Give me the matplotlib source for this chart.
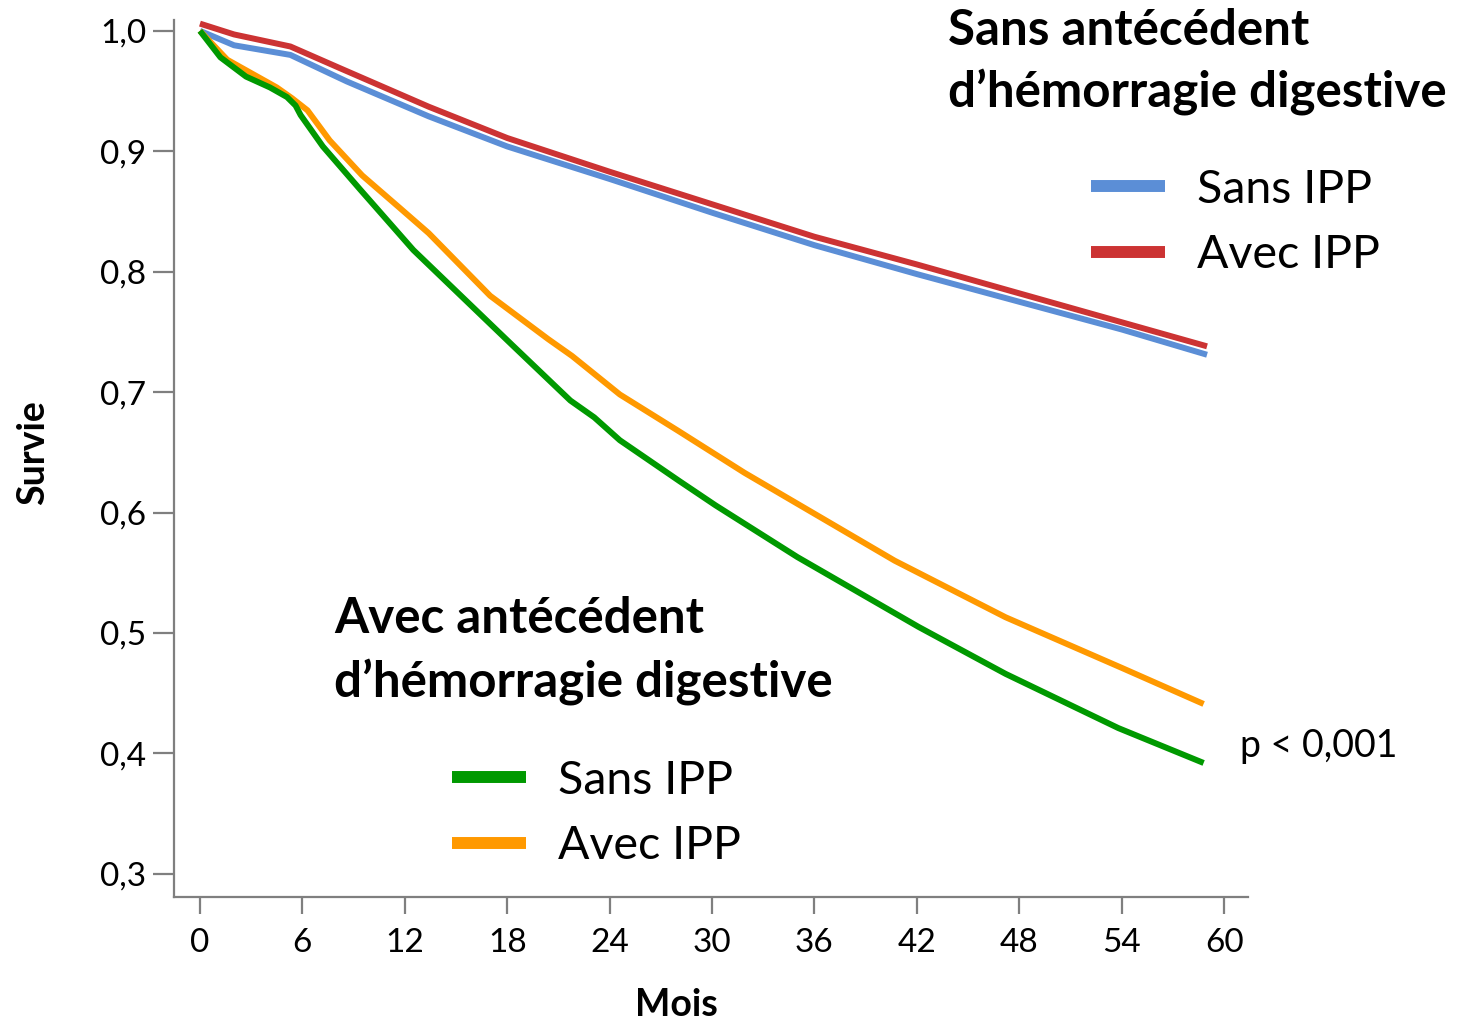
import matplotlib
matplotlib.use("Agg")
import matplotlib.pyplot as plt
from matplotlib.lines import Line2D

plt.rcParams['font.family'] = ['Lato', 'DejaVu Sans']

# Months and survival values
months_blue = [0, 2, 5.3, 8.6, 13.4, 18, 24, 30, 36, 42, 48, 54, 59]
surv_blue = [1.0, 0.988, 0.980, 0.958, 0.929, 0.904, 0.877, 0.849, 0.822, 0.798, 0.775, 0.752, 0.731]

months_red = [0, 2, 5.3, 8.2, 13.4, 18, 24, 30, 36, 42, 48, 54, 59]
surv_red = [1.006, 0.997, 0.987, 0.969, 0.937, 0.911, 0.883, 0.856, 0.829, 0.806, 0.782, 0.758, 0.738]

months_green = [0, 1.2, 2.7, 4.1, 5.1, 5.6, 5.9, 7.2, 9.4, 12.5, 18.3, 21.7, 23.1, 24.6,
                28.1, 30.2, 35.0, 42.1, 47.2, 53.8, 58.8]
surv_green = [1.0, 0.978, 0.962, 0.953, 0.945, 0.938, 0.930, 0.904, 0.868, 0.818, 0.739, 0.693, 0.679, 0.660,
              0.626, 0.606, 0.563, 0.505, 0.466, 0.421, 0.392]

months_orange = [0, 1.6, 4.5, 5.4, 6.3, 7.6, 9.5, 11.7, 13.4, 17.0, 20.4, 21.8, 24.6, 28.0,
                 31.9, 40.7, 47.2, 54.0, 58.8]
surv_orange = [1.0, 0.976, 0.953, 0.944, 0.934, 0.909, 0.880, 0.853, 0.832, 0.780, 0.744, 0.730, 0.698, 0.668,
               0.633, 0.560, 0.513, 0.471, 0.441]

x_ticks = [0, 6, 12, 18, 24, 30, 36, 42, 48, 54, 60]
y_ticks = [0.3, 0.4, 0.5, 0.6, 0.7, 0.8, 0.9, 1.0]
y_ticklabels = ['0,3', '0,4', '0,5', '0,6', '0,7', '0,8', '0,9', '1,0']

c_blue = '#5B8ED6'
c_red = '#CC3333'
c_green = '#009900'
c_orange = '#FF9900'

W, H = 1481, 1021
fig = plt.figure(figsize=(W / 100, H / 100), dpi=100)
ax = fig.add_axes([174 / W, 124 / H, (1248 - 174) / W, (1001 - 124) / H])

lw = 4.3
ax.plot(months_blue, surv_blue, color=c_blue, lw=lw, solid_capstyle='butt', solid_joinstyle='round')
ax.plot(months_red, surv_red, color=c_red, lw=lw, solid_capstyle='butt', solid_joinstyle='round')
ax.plot(months_orange, surv_orange, color=c_orange, lw=lw, solid_capstyle='butt', solid_joinstyle='round')
ax.plot(months_green, surv_green, color=c_green, lw=lw, solid_capstyle='butt', solid_joinstyle='round')

ax.set_xlim(-1.52, 61.4)
ax.set_ylim(0.2807, 1.009)
ax.set_xticks(x_ticks)
ax.set_xticklabels([str(t) for t in x_ticks])
ax.set_yticks(y_ticks)
ax.set_yticklabels(y_ticklabels)

for s in ['top', 'right']:
    ax.spines[s].set_visible(False)
for s in ['left', 'bottom']:
    ax.spines[s].set_color('#7f7f7f')
    ax.spines[s].set_linewidth(1.6)
ax.tick_params(axis='x', length=12, width=1.6, color='#7f7f7f', labelsize=24, pad=10)
ax.tick_params(axis='y', length=15, width=1.6, color='#7f7f7f', labelsize=24, pad=5)

# Axis titles
fig.text(676 / W, 1 - 1016 / H, 'Mois', fontsize=27, fontweight='bold', ha='center', va='baseline')
fig.text(33 / W, 1 - 453 / H, 'Survie', fontsize=27, fontweight='bold', ha='center', va='center',
         rotation=90)

# Group titles
tkw = dict(fontsize=35.5, fontweight='bold', ha='left', va='baseline')
fig.text(948 / W, 1 - 45 / H, 'Sans antécédent', **tkw)
fig.text(948 / W, 1 - 108 / H, 'd\u2019hémorragie digestive', **tkw)
fig.text(334 / W, 1 - 633 / H, 'Avec antécédent', **tkw)
fig.text(334 / W, 1 - 697 / H, 'd\u2019hémorragie digestive', **tkw)

lkw = dict(frameon=False, fontsize=33.5, handlelength=1.59, handletextpad=0.69,
           labelspacing=0.51, borderpad=0, borderaxespad=0, loc='center left',
           bbox_transform=fig.transFigure)
h1 = [Line2D([], [], color=c_blue, lw=8.6, solid_capstyle='butt'),
      Line2D([], [], color=c_red, lw=8.6, solid_capstyle='butt')]
leg1 = ax.legend(h1, ['Sans IPP', 'Avec IPP'], bbox_to_anchor=(1091 / W, 1 - 222.5 / H), **lkw)
ax.add_artist(leg1)
h2 = [Line2D([], [], color=c_green, lw=8.6, solid_capstyle='butt'),
      Line2D([], [], color=c_orange, lw=8.6, solid_capstyle='butt')]
leg2 = ax.legend(h2, ['Sans IPP', 'Avec IPP'], bbox_to_anchor=(452 / W, 1 - 813.5 / H), **lkw)

fig.text(1240 / W, 1 - 757 / H, 'p < 0,001', fontsize=27, ha='left', va='baseline')

fig.savefig('out.png', dpi=100)
